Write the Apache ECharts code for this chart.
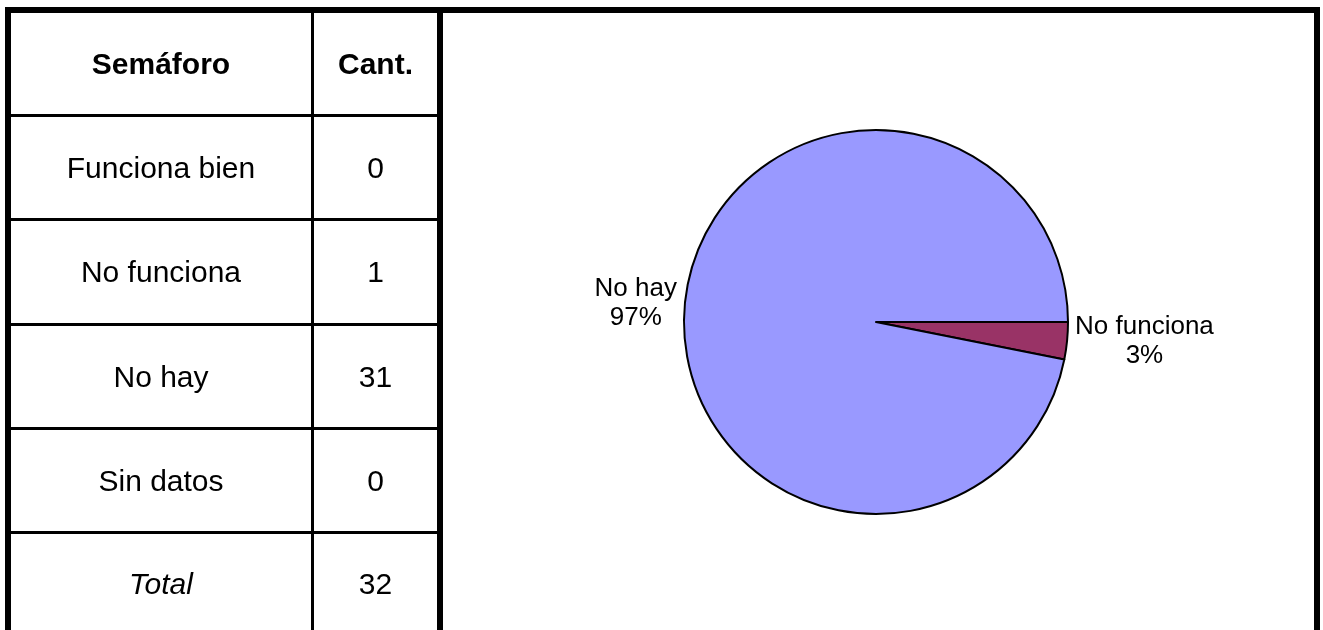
<!DOCTYPE html>
<html>
<head>
<meta charset="utf-8">
<script src="https://cdn.jsdelivr.net/npm/echarts@6/dist/echarts.min.js"></script>
<style>
  html, body { margin: 0; padding: 0; background: #fff; }
  #page { position: relative; width: 1323px; height: 630px; overflow: hidden;
    font-family: "Liberation Sans", Arial, sans-serif; color: #000; }
  #chart { position: absolute; left: 0; top: 0; width: 1323px; height: 630px; }
  .bar { position: absolute; background: #000; }
  .cell { position: absolute; display: flex; align-items: center; justify-content: center;
    font-size: 30px; white-space: nowrap; }
</style>
</head>
<body>
<div id="page">
  <div id="chart"></div>
  <div id="table"></div>
</div>
<script>
// datos de la tabla
const headers = ['Semáforo', 'Cant.'];
const categories = ['Funciona bien', 'No funciona', 'No hay', 'Sin datos'];
const counts = [0, 1, 31, 0];
const totalLabel = 'Total';
const total = 32;
const sliceColors = ['#FFFFCC', '#993366', '#9999FF', '#CCFFFF'];

// marco y tabla
const table = document.getElementById('table');
function bar(x, y, w, h) {
  const d = document.createElement('div');
  d.className = 'bar';
  d.style.cssText = `left:${x}px;top:${y}px;width:${w}px;height:${h}px`;
  table.appendChild(d);
}
function cell(text, x, y, w, h, extra) {
  const d = document.createElement('div');
  d.className = 'cell';
  d.style.cssText = `left:${x}px;top:${y}px;width:${w}px;height:${h}px;` + (extra || '');
  d.textContent = text;
  table.appendChild(d);
}

bar(5, 7, 1315, 6);      // arriba
bar(5, 7, 6, 623);       // izquierda
bar(1314, 7, 6, 623);    // derecha
bar(437, 7, 6, 623);     // separador tabla / grafico
bar(311, 13, 3, 617);    // columna

const lines = [114, 218, 323, 427, 531];
lines.forEach(y => bar(11, y, 426, 3));

cell(headers[0], 11, 13, 300, 101, 'font-weight:bold');
cell(headers[1], 314, 13, 123, 101, 'font-weight:bold');

const rows = categories.map((c, i) => [c, String(counts[i]), '']);
rows.push([totalLabel, String(total), 'font-style:italic']);
rows.forEach((r, i) => {
  const top = lines[i] + 3;
  const h = (lines[i + 1] || 634) - top;
  cell(r[0], 11, top, 300, h, r[2]);
  cell(r[1], 314, top, 123, h);
});

// grafico de torta
const pieData = categories
  .map((name, i) => ({ name, value: counts[i], itemStyle: { color: sliceColors[i] } }))
  .filter(d => d.value > 0);

const myChart = echarts.init(document.getElementById('chart'), null, { renderer: 'canvas' });
const option = {
  animation: false,
  series: [
    {
      type: 'pie',
      center: [876, 322],
      radius: 192,
      startAngle: 0,
      clockwise: true,
      percentPrecision: 0,
      silent: true,
      data: pieData,
      itemStyle: { borderColor: '#000', borderWidth: 2 },
      label: {
        show: true,
        position: 'outside',
        formatter: '{b}\n{d}%',
        color: '#000',
        fontFamily: 'Liberation Sans, Arial, sans-serif',
        fontSize: 26,
        lineHeight: 29,
        distanceToLabelLine: 6
      },
      labelLine: { show: false, length: 2, length2: 0 },
      labelLayout: function (params) {
        const r = params.labelRect;
        return { x: r.x + r.width / 2, align: 'center' };
      }
    }
  ]
};
option && myChart.setOption(option);
</script>
</body>
</html>
